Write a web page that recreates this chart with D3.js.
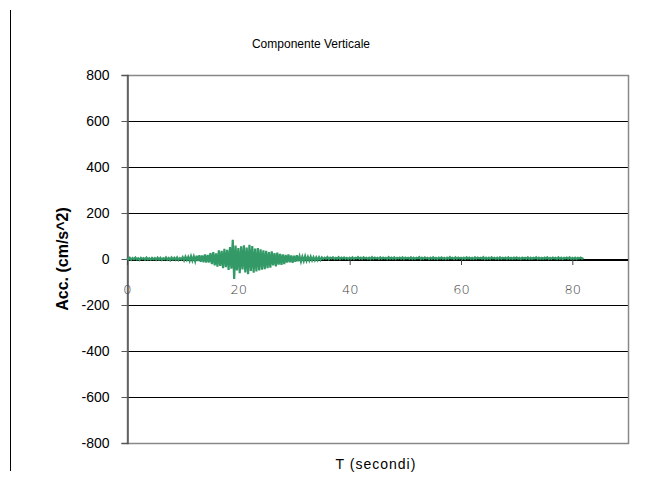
<!DOCTYPE html>
<html>
<head>
<meta charset="utf-8">
<script src="https://cdn.jsdelivr.net/npm/d3@7"></script>
<style>
  body { margin: 0; background: #fff; }
  svg { font-family: "Liberation Sans", Arial, sans-serif; }
</style>
</head>
<body>
<svg width="648" height="481"></svg>
<script>
// chart texts
var title = "Componente Verticale";
var xTitle = "T (secondi)";
var yTitle = "Acc. (cm/s^2)";

// ticks
var yTicks = [-800, -600, -400, -200, 0, 200, 400, 600, 800];
var xTicks = [0, 20, 40, 60, 80];

// accelerogram, one sample every dt seconds starting at t0
var t0 = 0;
var dt = 0.25;
var accel = [
  3, -2, 5, -3, 4, -1, 6, -2, 3, -4, 5, 0, 4, -3, 6, -2, 3, -3, 5, -1,
  4, -3, 6, -2, 5, -4, 3, -1, 7, -3, 4, -5, 6, -2, 5, -3, 7, -4, 4, -2,
  8, -6, 10, -4, 9, -8, 12, -7, 11, -10, 14, -9, 16, -12, 15, -14, 20, -16, 18, -15,
  26, -22, 30, -28, 24, -33, 38, -30, 35, -40, 44, -36, 40, -48, 52, -42, 83, -87, 58, -50,
  48, -62, 55, -45, 60, -58, 50, -66, 62, -52, 56, -60, 45, -54, 48, -50, 42, -46, 38, -44,
  36, -40, 30, -38, 33, -28, 26, -32, 28, -24, 22, -26, 20, -22, 18, -16, 20, -14, 15, -17,
  14, -12, 16, -10, 12, -11, 10, -9, 12, -8, 9, -7, 10, -6, 8, -6, 7, -5, 8, -4,
  7, 0, 6, 1, 8, -1, 6, 2, 7, 0, 5, 1, 8, 0, 6, 2, 7, 1, 5, 0,
  6, 1, 7, 0, 5, 2, 8, 1, 6, 0, 7, 2, 5, 1, 6, 0, 8, 1, 6, 2,
  5, 0, 7, 1, 6, 2, 5, 0, 8, 1, 6, 1, 7, 0, 5, 2, 6, 1, 7, 0,
  6, 2, 5, 1, 7, 0, 6, 1, 5, 2, 8, 0, 6, 1, 7, 2, 5, 0, 6, 1,
  7, 1, 5, 0, 6, 2, 7, 1, 5, 0, 6, 1, 8, 2, 5, 0, 7, 1, 6, 2,
  5, 1, 6, 0, 7, 2, 6, 1, 5, 0, 7, 1, 6, 2, 5, 1, 8, 0, 6, 1,
  6, 0, 7, 2, 5, 1, 6, 0, 7, 1, 5, 2, 6, 0, 7, 1, 5, 1, 6, 2,
  7, 1, 5, 0, 6, 2, 5, 1, 7, 0, 6, 1, 5, 2, 7, 0, 6, 1, 5, 1,
  6, 2, 7, 0, 5, 1, 6, 2, 5, 0, 7, 1, 6, 0, 5, 2, 6, 1, 7, 0,
  5, 1, 6, 0, 5, 2, 6, 1, 4
];

var svg = d3.select("svg");

// plot area
var plotLeft = 127, plotRight = 628, plotTop = 75, plotBottom = 443;

var x = d3.scaleLinear().domain([0, 90]).range([plotLeft, plotRight]);
var y = d3.scaleLinear().domain([-800, 800]).range([plotBottom, plotTop]);

// outer chart border (only the left edge shows)
svg.append("line")
  .attr("x1", 10.5).attr("x2", 10.5)
  .attr("y1", 10).attr("y2", 471)
  .attr("stroke", "#000").attr("stroke-width", 1);

// gridlines
svg.append("g")
  .selectAll("line")
  .data(yTicks.filter(function(d) { return d != 0 && Math.abs(d) != 800; }))
  .enter()
  .append("line")
    .attr("x1", plotLeft).attr("x2", plotRight)
    .attr("y1", function(d) { return Math.round(y(d)) + 0.5; })
    .attr("y2", function(d) { return Math.round(y(d)) + 0.5; })
    .attr("stroke", "#000");

// frame of plot area
svg.append("rect")
  .attr("x", plotLeft + 0.5).attr("y", Math.round(y(800)) + 0.5)
  .attr("width", plotRight - plotLeft).attr("height", Math.round(y(-800)) - Math.round(y(800)))
  .attr("fill", "none")
  .attr("stroke", "#888").attr("stroke-width", 1.5);

// zero line
svg.append("line")
  .attr("x1", plotLeft).attr("x2", plotRight)
  .attr("y1", y(0) + 1).attr("y2", y(0) + 1)
  .attr("stroke", "#000").attr("stroke-width", 2);

// y axis
var yAxis = d3.axisLeft(y).tickValues(yTicks).tickSize(6).tickPadding(12)
  .tickFormat(function(d) { return String(d); });
var gy = svg.append("g")
  .attr("transform", "translate(" + (plotLeft + 0.5) + ",0)")
  .call(yAxis);
gy.select(".domain").attr("stroke", "#555").attr("stroke-width", 1.5);
gy.selectAll(".tick line").attr("stroke", "#555");
gy.selectAll(".tick text")
  .attr("font-size", 14).attr("fill", "#000")
  .style("font-family", "Liberation Sans, Arial, sans-serif");

// x axis sits on zero
var xAxis = d3.axisBottom(x).tickValues(xTicks).tickSize(5).tickPadding(20).tickSizeOuter(0)
  .tickFormat(function(d) { return String(d); });
var gx = svg.append("g")
  .attr("transform", "translate(0," + (y(0) + 1) + ")")
  .call(xAxis);
gx.select(".domain").remove();
gx.selectAll(".tick line").attr("stroke", "#444");
gx.selectAll(".tick text")
  .attr("font-size", 13).attr("fill", "#444")
  .style("font-family", "DejaVu Sans, sans-serif")
  .style("font-weight", "200");

// series
var line = d3.line()
  .x(function(d, i) { return x(t0 + i * dt); })
  .y(function(d) { return y(d); });

svg.append("path")
  .datum(accel)
  .attr("d", line)
  .attr("fill", "none")
  .attr("stroke", "#339966")
  .attr("stroke-width", 2.2);

// titles
svg.append("text")
  .attr("x", 311).attr("y", 48)
  .attr("text-anchor", "middle")
  .attr("font-size", 12)
  .text(title);

svg.append("text")
  .attr("x", 376).attr("y", 469)
  .attr("text-anchor", "middle")
  .attr("font-size", 14)
  .attr("letter-spacing", 1)
  .text(xTitle);

svg.append("text")
  .attr("transform", "translate(68," + y(0) + ") rotate(-90)")
  .attr("text-anchor", "middle")
  .attr("font-size", 16)
  .attr("font-weight", "bold")
  .text(yTitle);
</script>
</body>
</html>
